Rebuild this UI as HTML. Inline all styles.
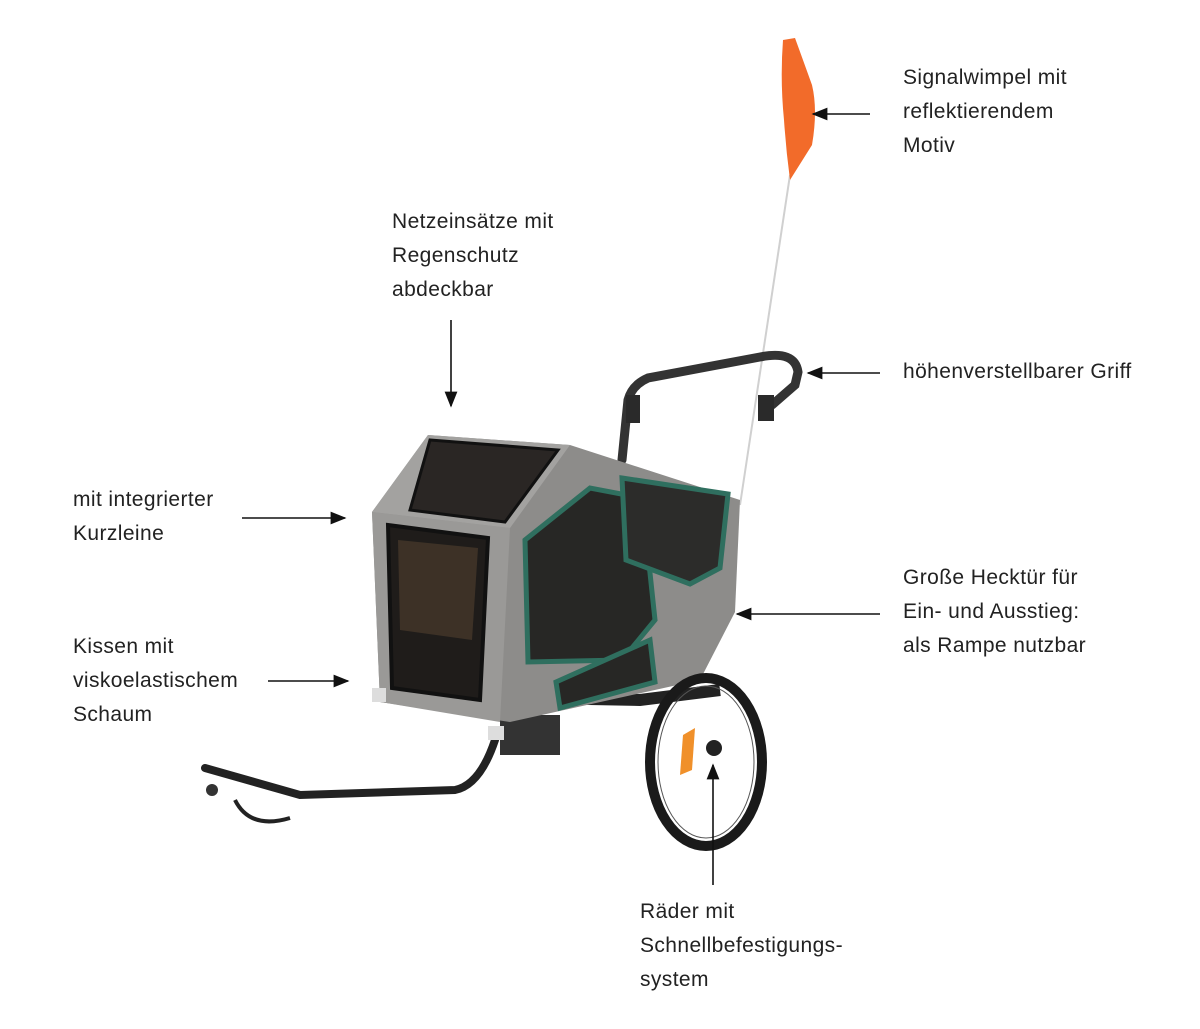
<!DOCTYPE html>
<html><head><meta charset="utf-8"><style>
html,body{margin:0;padding:0;background:#fff;}
#c{position:relative;width:1200px;height:1029px;overflow:hidden;font-family:"Liberation Sans",sans-serif;}
.t{position:absolute;font-size:21px;line-height:34px;color:#222;letter-spacing:0.4px;}
svg{position:absolute;left:0;top:0;}
</style></head><body><div id="c">
<svg width="1200" height="1029" viewBox="0 0 1200 1029">
<defs><marker id="a" markerWidth="10" markerHeight="8" refX="9" refY="4" orient="auto"><path d="M0,0 L10,4 L0,8 z" fill="#111"/></marker></defs>
<line x1="740" y1="505" x2="790" y2="175" stroke="#d0d0d0" stroke-width="2"/>
<path d="M783,40 L795,38 Q803,60 812,85 Q818,110 812,145 L790,180 Q786,150 784,120 Q780,80 783,40 z" fill="#f26b2a"/>
<path d="M622,460 L628,400 Q632,385 648,378 L760,357 Q795,350 798,372 L795,385 L772,405" fill="none" stroke="#333" stroke-width="9" stroke-linecap="round"/>
<rect x="626" y="395" width="14" height="28" fill="#2a2a2a"/>
<rect x="758" y="395" width="16" height="26" fill="#2a2a2a"/>
<path d="M205,768 L300,795 L455,790 Q480,785 495,740" fill="none" stroke="#222" stroke-width="8" stroke-linecap="round"/>
<path d="M235,800 Q250,830 290,818" fill="none" stroke="#222" stroke-width="4"/>
<circle cx="212" cy="790" r="6" fill="#333"/>
<path d="M375,695 L640,700 L720,690" fill="none" stroke="#222" stroke-width="12"/>
<rect x="500" y="715" width="60" height="40" fill="#333"/>
<polygon points="372,512 428,435 570,445 740,500 735,612 700,680 510,722 380,702" fill="#8d8c8a"/>
<polygon points="372,512 510,528 500,722 380,702" fill="#9a9997"/>
<polygon points="428,435 570,445 510,528 372,512" fill="#a3a2a0"/>
<polygon points="430,440 558,450 505,522 410,510" fill="#2a2624" stroke="#111" stroke-width="3"/>
<polygon points="388,525 488,538 480,700 392,688" fill="#1f1c1a" stroke="#111" stroke-width="4"/>
<polygon points="398,540 478,548 472,640 400,630" fill="#4a3a2c" opacity="0.7"/>
<polygon points="525,540 590,488 642,498 655,620 622,660 528,662" fill="#272725" stroke="#2f6f5f" stroke-width="5"/>
<polygon points="556,682 650,640 655,682 560,708" fill="#272725" stroke="#2f6f5f" stroke-width="5"/>
<polygon points="622,478 728,494 720,568 690,584 626,560" fill="#2c2c2a" stroke="#2f6f5f" stroke-width="5"/>
<rect x="372" y="688" width="14" height="14" fill="#ddd"/>
<rect x="488" y="726" width="16" height="14" fill="#ddd"/>
<ellipse cx="706" cy="762" rx="56" ry="84" fill="none" stroke="#1a1a1a" stroke-width="10"/>
<ellipse cx="706" cy="762" rx="48" ry="76" fill="none" stroke="#555" stroke-width="1"/>
<polygon points="683,735 695,728 692,770 680,775" fill="#f0902a"/>
<circle cx="714" cy="748" r="8" fill="#222"/>
<g stroke="#111" stroke-width="1.6" fill="none" marker-end="url(#a)">
<line x1="870" y1="114" x2="813" y2="114"/>
<line x1="451" y1="320" x2="451" y2="406"/>
<line x1="880" y1="373" x2="808" y2="373"/>
<line x1="242" y1="518" x2="345" y2="518"/>
<line x1="880" y1="614" x2="737" y2="614"/>
<line x1="268" y1="681" x2="348" y2="681"/>
<line x1="713" y1="885" x2="713" y2="765"/>
</g>
</svg>
<div class="t" style="left:903px;top:61px">Signalwimpel mit<br>reflektierendem<br>Motiv</div>
<div class="t" style="left:392px;top:205px">Netzeinsätze mit<br>Regenschutz<br>abdeckbar</div>
<div class="t" style="left:903px;top:355px">höhenverstellbarer Griff</div>
<div class="t" style="left:73px;top:483px">mit integrierter<br>Kurzleine</div>
<div class="t" style="left:903px;top:561px">Große Hecktür für<br>Ein- und Ausstieg:<br>als Rampe nutzbar</div>
<div class="t" style="left:73px;top:630px">Kissen mit<br>viskoelastischem<br>Schaum</div>
<div class="t" style="left:640px;top:895px">Räder mit<br>Schnellbefestigungs-<br>system</div>
</div></body></html>
